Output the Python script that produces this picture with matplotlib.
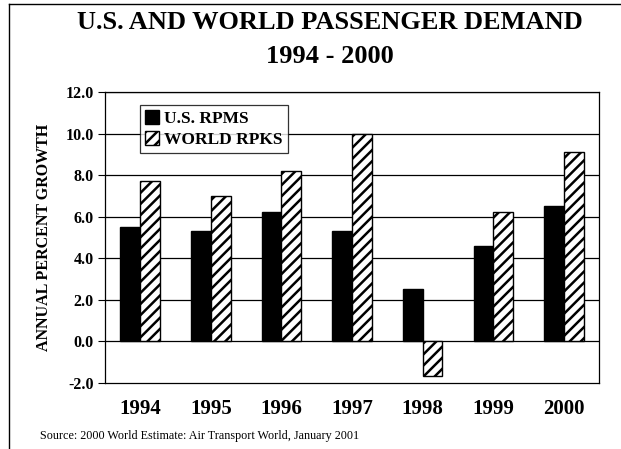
import numpy as np
import matplotlib
matplotlib.use("Agg")
import matplotlib.pyplot as plt
from matplotlib.lines import Line2D

years = ["1994", "1995", "1996", "1997", "1998", "1999", "2000"]
us_rpms = [5.5, 5.3, 6.2, 5.3, 2.5, 4.6, 6.5]
world_rpks = [7.7, 7.0, 8.2, 10.0, -1.7, 6.2, 9.1]
y_ticks = [-2.0, 0.0, 2.0, 4.0, 6.0, 8.0, 10.0, 12.0]

plt.rcParams['font.family'] = ['Liberation Serif', 'DejaVu Serif']
plt.rcParams['hatch.linewidth'] = 1.8

fig = plt.figure(figsize=(6.21, 4.49), dpi=100)
ax = fig.add_axes([0.169, 0.148, 0.796, 0.647])

x = np.arange(len(years))
w = 0.28
ax.bar(x - w / 2, us_rpms, w, color="black", edgecolor="black", label="U.S. RPMS", zorder=3)
ax.bar(x + w / 2, world_rpks, w, color="white", edgecolor="black", hatch="///",
       linewidth=1.0, label="WORLD RPKS", zorder=3)

ax.set_xlim(-0.5, len(years) - 0.5)
ax.set_ylim(-2.0, 12.0)
ax.set_yticks(y_ticks)
ax.set_yticklabels(["%.1f" % v for v in y_ticks], fontsize=11.5, fontweight="bold")
ax.set_xticks(x)
ax.set_xticklabels(years, fontsize=15, fontweight="bold")
ax.tick_params(axis="x", length=0, pad=12)
ax.tick_params(axis="y", direction="out", length=5, width=0.8, pad=3)
for v in y_ticks:
    if v >= 0:
        ax.axhline(v, color="black", linewidth=0.9, zorder=1)
for s in ax.spines.values():
    s.set_linewidth(0.9)

ax.set_ylabel("ANNUAL PERCENT GROWTH", fontsize=11.5, fontweight="bold", labelpad=10)

leg = ax.legend(loc="upper left", bbox_to_anchor=(0.07, 0.955), frameon=True, fancybox=False,
                edgecolor="black", prop={"size": 12.5, "weight": "bold"},
                handlelength=0.8, handleheight=0.8, handletextpad=0.3,
                borderpad=0.3, labelspacing=0.25, borderaxespad=0)
leg.get_frame().set_linewidth(0.9)

fig.text(0.532, 0.95, "U.S. AND WORLD PASSENGER DEMAND", ha="center", va="center",
         fontsize=19, fontweight="bold")
fig.text(0.532, 0.875, "1994 - 2000", ha="center", va="center", fontsize=19, fontweight="bold")
fig.text(0.064, 0.03, "Source: 2000 World Estimate: Air Transport World, January 2001",
         ha="left", va="center", fontsize=8.7)

# page frame lines
fig.add_artist(Line2D([0.0145, 0.0145], [0.0, 0.99], color="black", linewidth=1.0))
fig.add_artist(Line2D([0.0145, 1.0], [0.99, 0.99], color="black", linewidth=1.0))

fig.savefig("out.png", dpi=100)
